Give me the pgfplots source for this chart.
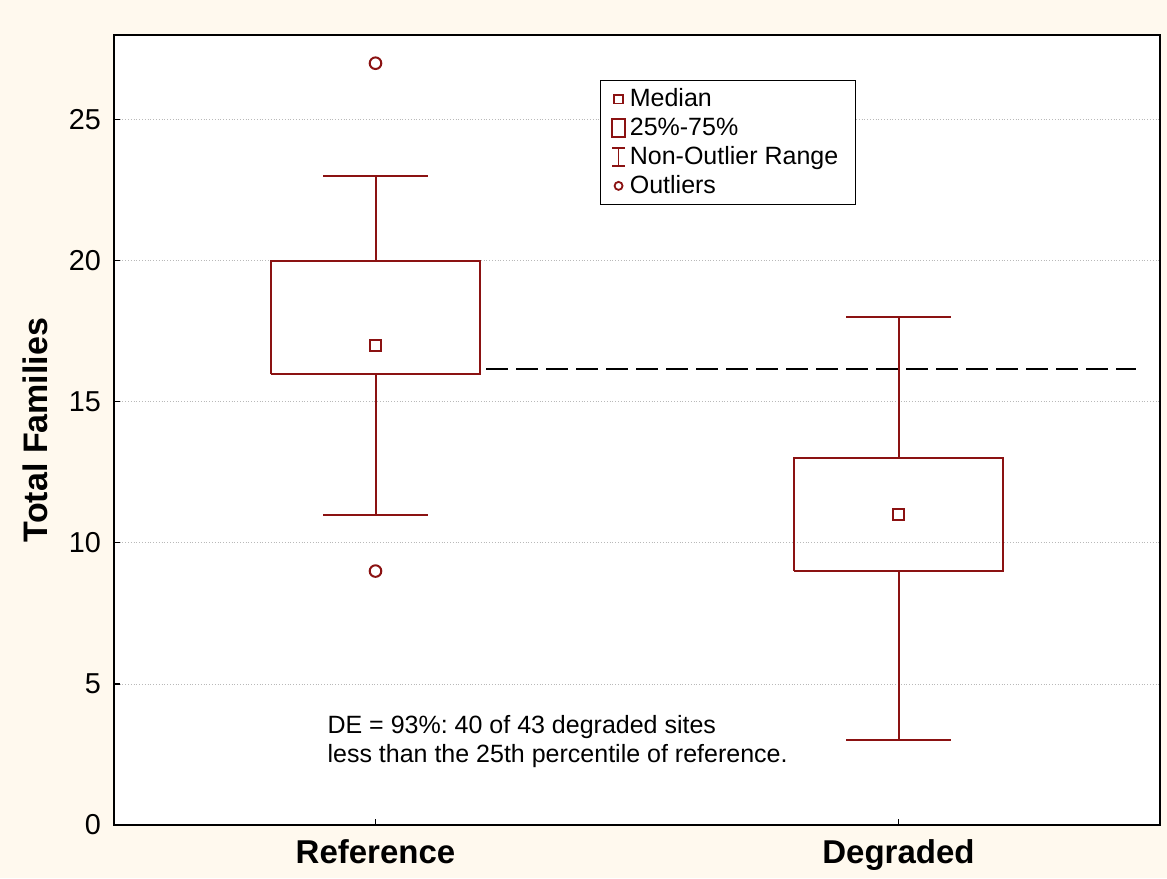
\documentclass[border=0pt]{standalone}
\usepackage{pgfplots}
\pgfplotsset{compat=1.18}
\usepackage{fontspec}
\setmainfont{Liberation Sans}
\definecolor{boxred}{RGB}{139,18,18}
\definecolor{cream}{RGB}{255,249,238}
\frenchspacing
\begin{document}
\begin{tikzpicture}
\fill[cream] (-57pt,-26.5pt) rectangle (526.5pt,412.5pt);
\path[use as bounding box] (-57pt,-26.5pt) rectangle (526.5pt,412.5pt);
\begin{axis}[
  at={(0,0)}, anchor=south west,
  scale only axis, width=523pt, height=395pt,
  xmin=0.5, xmax=2.5, ymin=0, ymax=28,
  xtick={1,2}, xticklabels={Reference,Degraded},
  ytick={0,5,10,15,20,25},
  tick align=inside, xtick pos=bottom, ytick pos=left,
  major tick length=3pt,
  tick style={black, line width=0.6pt},
  ymajorgrids, grid style={densely dotted, gray!55, line width=0.4pt},
  axis background/.style={fill=white},
  axis line style={line width=0.8pt},
  /pgf/number format/assume math mode=true,
  yticklabel style={font=\fontsize{14.4}{17}\selectfont, xshift=-3pt},
  xticklabel style={font=\fontsize{16.5}{19}\selectfont\bfseries, yshift=-4pt},
  ylabel={Total Families},
  every axis y label/.style={at={(axis description cs:-0.0755,0.5)}, rotate=90, anchor=center,
    font=\fontsize{17}{20}\selectfont\bfseries},
  legend style={at={(axis description cs:0.4646,0.943)}, anchor=north west,
    draw=black, fill=white, line width=0.6pt, font=\fontsize{12.5}{14.5}\selectfont,
    inner xsep=2pt, inner ysep=2pt, row sep=0pt,
    /tikz/every even column/.append style={column sep=3.5pt}},
  legend cell align=left,
]
% boxes
\addplot[boxred, line width=1pt, forget plot] coordinates {(0.8,16) (1.2,16) (1.2,20) (0.8,20) (0.8,16)};
\addplot[boxred, line width=1pt, forget plot] coordinates {(1.8,9) (2.2,9) (2.2,13) (1.8,13) (1.8,9)};
% whiskers
\addplot[boxred, line width=1pt, forget plot] coordinates {(1,20) (1,23)};
\addplot[boxred, line width=1pt, forget plot] coordinates {(0.9,23) (1.1,23)};
\addplot[boxred, line width=1pt, forget plot] coordinates {(1,16) (1,11)};
\addplot[boxred, line width=1pt, forget plot] coordinates {(0.9,11) (1.1,11)};
\addplot[boxred, line width=1pt, forget plot] coordinates {(2,13) (2,18)};
\addplot[boxred, line width=1pt, forget plot] coordinates {(1.9,18) (2.1,18)};
\addplot[boxred, line width=1pt, forget plot] coordinates {(2,9) (2,3)};
\addplot[boxred, line width=1pt, forget plot] coordinates {(1.9,3) (2.1,3)};
% medians
\addplot[only marks, mark=square, mark size=2.6pt, boxred, mark options={line width=1pt, fill=white}, forget plot] coordinates {(1,17) (2,11)};
% outliers
\addplot[only marks, mark=o, mark size=2.9pt, boxred, mark options={line width=1pt}, forget plot] coordinates {(1,27) (1,9)};
% dashed line at reference 25th percentile
\addplot[black, line width=1pt, dash pattern=on 11pt off 4pt, forget plot] coordinates {(1.212,16.15) (2.454,16.15)};
% legend
\addlegendimage{legend image code/.code={\path (0pt,0pt); \draw[boxred, line width=0.9pt, fill=white] (4.5pt,-2.2pt) rectangle (8.9pt,2.2pt); \path (9.9pt,0pt);}}
\addlegendentry{Median}
\addlegendimage{legend image code/.code={\path (0pt,0pt); \draw[boxred, line width=0.9pt] (3.5pt,-4.5pt) rectangle (9.9pt,4.5pt);}}
\addlegendentry{25\%-75\%}
\addlegendimage{legend image code/.code={\path (0pt,0pt); \draw[boxred, line width=0.9pt] (6.7pt,-4.5pt) -- (6.7pt,4.5pt) (3.5pt,4.5pt) -- (9.9pt,4.5pt) (3.5pt,-4.5pt) -- (9.9pt,-4.5pt);}}
\addlegendentry{Non-Outlier Range\rule{4.5pt}{0pt}}
\addlegendimage{legend image code/.code={\path (0pt,0pt); \draw[boxred, line width=0.9pt, fill=white] (6.7pt,0pt) circle (2pt); \path (9.9pt,0pt);}}
\addlegendentry{Outliers}
\node[anchor=north west, align=left, inner sep=0pt, font=\fontsize{12.5}{14.5}\selectfont] at (axis cs:0.9076,3.9) {DE = 93\%: 40 of 43 degraded sites\\less than the 25th percentile of reference.};
\end{axis}
\end{tikzpicture}
\end{document}
